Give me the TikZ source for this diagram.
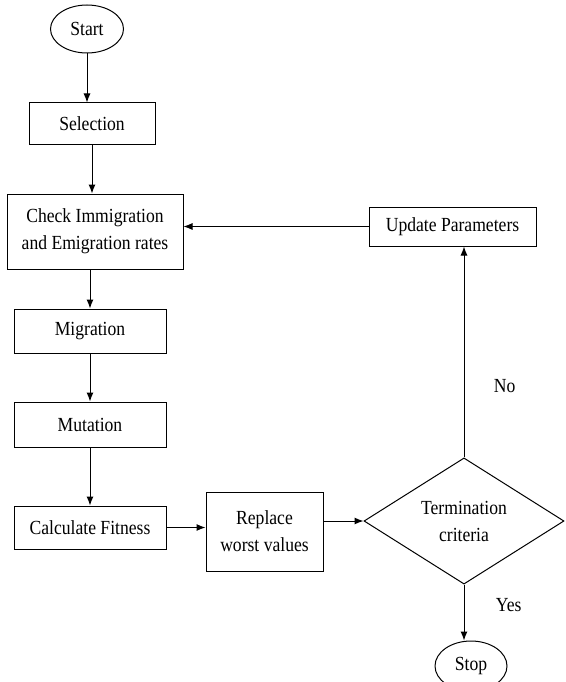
\documentclass[tikz,border=0pt]{standalone}
\usepackage{fontspec}
\setmainfont{Liberation Serif}[FakeStretch=0.88]
\usetikzlibrary{shapes, arrows.meta}
\tikzstyle{base} = [draw, line width=1pt, inner sep=0pt, text centered, font=\fontsize{20}{27}\selectfont]
\tikzstyle{terminator} = [base, ellipse]
\tikzstyle{process} = [base, rectangle, minimum width=152pt]
\tikzstyle{decision} = [base, diamond, minimum width=200pt, minimum height=120pt]
\tikzstyle{connector} = [draw, line width=1pt, -{Latex[length=9pt,width=7pt]}]
\tikzstyle{connector text} = [font=\fontsize{20}{27}\selectfont, text=black]

\begin{document}
\begin{tikzpicture}[x=1pt, y=-1pt]
	\useasboundingbox (0,0) rectangle (565,682);
	
	\node [terminator, minimum width=73pt, minimum height=48pt] at (87, 29) (start) {Start};
	\node [terminator, minimum width=72pt, minimum height=50pt] at (471, 666) (stop) {Stop};
	
	% main column
	\node [process, minimum width=126pt, minimum height=41pt] at (92, 123.5) (selection) {Selection};
	\node [process, minimum width=176pt, minimum height=75pt, align=center] at (95, 231.5) (check) {Check Immigration\\and Emigration rates};
	\node [process, minimum height=44pt] at (90, 331) (migration) {Migration};
	\node [process, minimum height=45pt] at (90, 424.5) (mutation) {Mutation};
	\node [process, minimum height=43pt] at (90, 527.5) (fitness) {Calculate Fitness};
	
	% loop
	\node [process, minimum width=117pt, minimum height=79pt, align=center] at (264.5, 531.5) (replace) {Replace\\worst values};
	\node [decision, align=center] at (464, 521) (termination) {Termination\\criteria};
	\node [process, minimum width=167pt, minimum height=39pt] at (452.5, 226.5) (update) {Update Parameters};
	
	\path [connector] (start) -- (start |- selection.north);
	\path [connector] (selection) -- (selection |- check.north);
	\path [connector] (check) -- (check.south -| migration) -- (migration);
	\path [connector] (migration) -- (mutation);
	\path [connector] (mutation) -- (fitness);
	\path [connector] (fitness.east) -- (fitness.east -| replace.west);
	\path [connector] (replace.east |- termination.west) -- (termination.west);
	
	\path [connector] (termination.north) -- node[connector text, pos=0.34, right=26pt] {No} (termination.north |- update.south);
	\path [connector] (update.west) -- (update.west -| check.east);
	\path [connector] (termination.south) -- node[connector text, pos=0.37, right=28pt] {Yes} (termination.south |- stop.north);
	
\end{tikzpicture}
\end{document}
